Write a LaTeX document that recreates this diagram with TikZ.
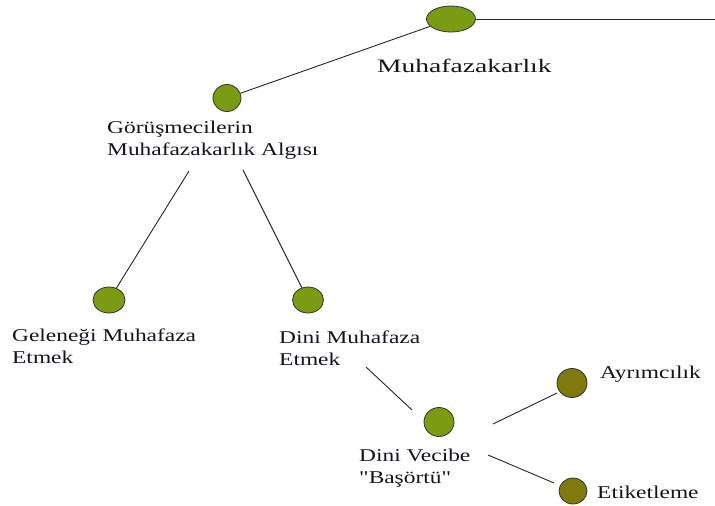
\documentclass[tikz,border=0pt]{standalone}
\usepackage{fontspec}
\setmainfont{Liberation Serif}[FakeStretch=1.3, Ligatures=TeXOff]
\newfontfamily\widefont{Liberation Serif}[FakeStretch=1.45]
\usetikzlibrary{shapes.geometric}
\definecolor{leaf}{HTML}{7B9B13}
\definecolor{olive}{HTML}{807A0E}
\definecolor{ink}{HTML}{14141C}
\tikzset{
  dot/.style={ellipse, draw=black!80, line width=0.8pt, fill=leaf, inner sep=0pt},
  darkdot/.style={dot, fill=olive},
  lbl/.style={anchor=base west, inner sep=0pt, align=left, text=ink,
    font=\fontsize{18}{22}\selectfont},
  conn/.style={draw=black!85, line width=0.9pt}
}
\begin{document}
\begin{tikzpicture}[x=1pt,y=-1pt]
\useasboundingbox (0,0) rectangle (715,506);
% nodes
\node[dot, minimum width=49pt, minimum height=26pt] (top) at (451,19) {};
\node[dot, minimum width=28pt, minimum height=27pt] (gorus) at (227,98) {};
\node[dot, minimum width=32pt, minimum height=26pt] (gel) at (109,300) {};
\node[dot, minimum width=31pt, minimum height=26pt] (dmn) at (308,300) {};
\node[dot, minimum width=30pt, minimum height=29pt] (dv) at (439,422) {};
\node[darkdot, minimum width=30pt, minimum height=29pt] (ayr) at (572,383) {};
\node[darkdot, minimum width=28pt, minimum height=26pt] (etk) at (573,491) {};
% labels (base = baseline of last line)
\node[lbl, font=\widefont\fontsize{19}{22}\selectfont] (ltop) at (377,72) {Muhafazakarlık};
\node[lbl] (lgorus) at (107,155) {Görüşmecilerin\\Muhafazakarlık Algısı};
\node[lbl] (lgel) at (12,363) {Geleneği Muhafaza\\Etmek};
\node[lbl] (ldmn) at (279,365) {Dini Muhafaza\\Etmek};
\node[lbl] (ldv) at (359,483) {Dini Vecibe\\"Başörtü"};
\node[lbl] (layr) at (600,378) {Ayrımcılık};
\node[lbl] (letk) at (597,498) {Etiketleme};
% free ends
\coordinate (rend) at (715,19);
\coordinate (a1) at (189,171);
\coordinate (a2) at (243,170);
\coordinate (b1) at (366,367);
\coordinate (b2) at (412,410);
\coordinate (c1) at (493,424);
\coordinate (c2) at (557,393);
\coordinate (d1) at (488,455);
\coordinate (d2) at (554,483);
% connectors
\draw[conn] (top) -- (rend);
\draw[conn] (top) -- (gorus);
\draw[conn] (a1) -- (gel);
\draw[conn] (a2) -- (dmn);
\draw[conn] (b1) -- (b2);
\draw[conn] (c1) -- (c2);
\draw[conn] (d1) -- (d2);
\end{tikzpicture}
\end{document}
